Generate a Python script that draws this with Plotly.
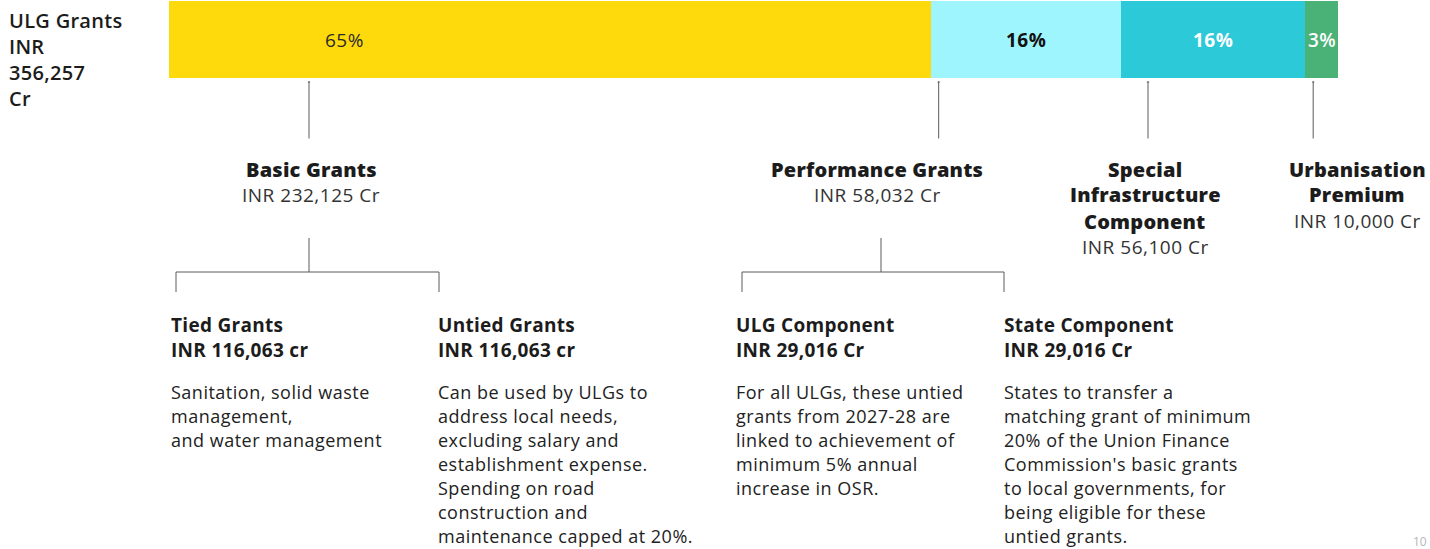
import plotly.graph_objects as go

# --- data -------------------------------------------------------------
segments = ["Basic Grants", "Performance Grants",
            "Special Infrastructure Component", "Urbanisation Premium"]
amounts = [232125, 58032, 56100, 10000]          # INR crore
seg_colors = ["#FED90B", "#9FF5FD", "#2CC9D9", "#4AB177"]
pct_colors = ["#2a2a2a", "#111111", "#ffffff", "#ffffff"]
pct_weights = [500, 700, 700, 600]

basic_split = ["Tied Grants", "Untied Grants"]
basic_split_amounts = [116063, 116063]
basic_split_units = ["cr", "cr"]
perf_split = ["ULG Component", "State Component"]
perf_split_amounts = [29016, 29016]
perf_split_units = ["Cr", "Cr"]

descriptions = [
    ["Sanitation, solid waste", "management,", "and water management"],
    ["Can be used by ULGs to", "address local needs,", "excluding salary and",
     "establishment expense.", "Spending on road", "construction and",
     "maintenance capped at 20%."],
    ["For all ULGs, these untied", "grants from 2027-28 are",
     "linked to achievement of", "minimum 5% annual", "increase in OSR."],
    ["States to transfer a", "matching grant of minimum",
     "20% of the Union Finance", "Commission's basic grants",
     "to local governments, for", "being eligible for these",
     "untied grants."],
]

total = sum(amounts)

# --- page geometry ----------------------------------------------------
W, H = 1430, 549
BAR_L, BAR_R, BAR_T, BAR_B = 169, 1338, 1, 78
FONT = "Open Sans"
DARK = "#1c1c1c"
LINE = "#5a5a5a"


def px(x):
    return x / W


def py(y):
    return 1 - y / H


def data_to_px(v):
    return BAR_L + (BAR_R - BAR_L) * v / total


def spaced(s, ls):
    return f'<span style="letter-spacing:{ls}px">{s}</span>'


fig = go.Figure()

# stacked share bar
starts = []
acc = 0
for name, val, col in zip(segments, amounts, seg_colors):
    starts.append(acc)
    fig.add_trace(go.Bar(
        y=[0], x=[val], base=[acc], orientation="h", width=[1],
        marker=dict(color=col, line=dict(width=0)),
        name=name, hoverinfo="skip", showlegend=False,
    ))
    acc += val

annotations = []
shapes = []


def text(x, y, s, size, weight=400, color=DARK, anchor="center", ls=0.0):
    annotations.append(dict(
        x=px(x), y=py(y), xref="paper", yref="paper", text=spaced(s, ls),
        showarrow=False, xanchor=anchor, yanchor="middle",
        font=dict(family=FONT, size=size, color=color, weight=weight),
    ))


def line(x0, y0, x1, y1):
    shapes.append(dict(
        type="line", xref="paper", yref="paper",
        x0=px(x0), y0=py(y0), x1=px(x1), y1=py(y1),
        line=dict(color=LINE, width=1),
    ))


# percentage labels inside the bar
label_pos = [0.23, 0.5, 0.5, 0.5]
for st, val, c, w, f in zip(starts, amounts, pct_colors, pct_weights, label_pos):
    pct = round(100 * val / total)
    annotations.append(dict(
        x=st + val * f, y=0, xref="x", yref="y", text=spaced(f"{pct}%", 0.5),
        showarrow=False, xanchor="center", yanchor="middle",
        font=dict(family=FONT, size=19, color=c, weight=w),
    ))

# headline total on the left
for i, s in enumerate(["ULG Grants", "INR", f"{total:,}", "Cr"]):
    text(7, 20 + 26 * i, s, 20, 600, anchor="left", ls=0.3)

# second level: component headings with their amounts
head_cx = [311, 877, 1145, 1357]
head_lines = [["Basic Grants"], ["Performance Grants"],
              ["Special", "Infrastructure", "Component"],
              ["Urbanisation", "Premium"]]
for cx, hl, val in zip(head_cx, head_lines, amounts):
    y = 169
    for s in hl:
        text(cx, y, s, 20, 800, ls=0.2)
        y += 26
    text(cx, y, f"INR {val:,} Cr", 19, 400, color="#333333", ls=0.5)

# connectors from the bar down to each heading
conn_ref = [309, 881, 1148, 1310]
for st, val, ref in zip(starts, amounts, conn_ref):
    lo = data_to_px(st) + 8
    hi = data_to_px(st + val) - 8
    cx = min(max(ref, lo), hi)
    annotations.append(dict(
        x=px(cx), y=py(BAR_B + 3), xref="paper", yref="paper",
        ax=0, ay=140 - (BAR_B + 3), axref="pixel", ayref="pixel",
        showarrow=True, arrowhead=1, arrowsize=0.5, arrowwidth=1,
        arrowcolor=LINE, text="",
    ))

# third level: brackets splitting basic and performance grants
for cx, xl, xr in [(309, 176, 439), (881, 742, 1004)]:
    line(cx, 238, cx, 272)
    line(xl, 272, xr, 272)
    line(xl, 272, xl, 292)
    line(xr, 272, xr, 292)

sub_names = basic_split + perf_split
sub_amounts = basic_split_amounts + perf_split_amounts
sub_units = basic_split_units + perf_split_units
sub_x = [169, 436, 734, 1002]
for x, n, v, u, desc in zip(sub_x, sub_names, sub_amounts, sub_units, descriptions):
    text(x, 325, n, 19, 700, anchor="left", ls=0.3)
    text(x, 350, f"INR {v:,} {u}", 19, 700, anchor="left", ls=0.3)
    for j, s in enumerate(desc):
        text(x, 392 + 24 * j, s, 18, 400, color="#222222", anchor="left", ls=0.5)

# page number
text(1429, 541, "10", 12, 400, color="#b5b5b5", anchor="right")

fig.update_layout(
    width=W, height=H,
    margin=dict(l=0, r=0, t=0, b=0),
    paper_bgcolor="white", plot_bgcolor="white",
    barmode="stack", bargap=0,
    xaxis=dict(visible=False, range=[0, total], fixedrange=True,
               domain=[px(BAR_L), px(BAR_R)]),
    yaxis=dict(visible=False, range=[-0.5, 0.5], fixedrange=True,
               domain=[py(BAR_B), py(BAR_T)]),
    annotations=annotations,
    shapes=shapes,
    showlegend=False,
)

fig.write_html("out.html")
